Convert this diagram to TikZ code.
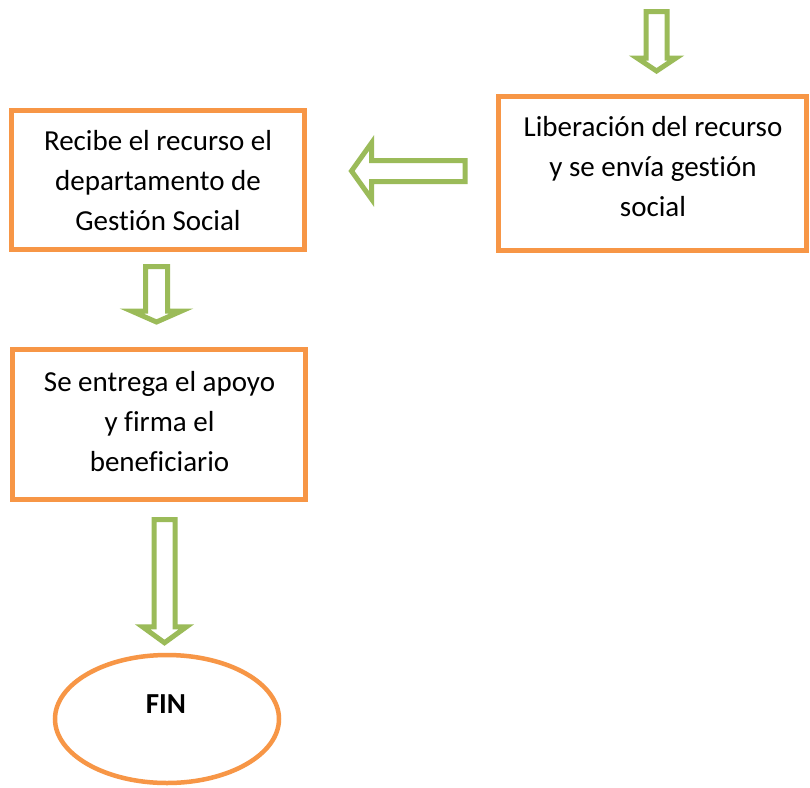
\documentclass[tikz,border=0pt]{standalone}
\usepackage{fontspec}
\setmainfont[Ligatures={NoCommon}]{Carlito}
\usetikzlibrary{calc,shapes.geometric}
\definecolor{orangebox}{HTML}{F79646}
\definecolor{greenarrow}{HTML}{9BBB59}
\tikzset{
  stepbox/.style={draw=orangebox, line width=5pt, fill=white, rectangle, inner sep=0pt},
  endbox/.style={draw=orangebox, line width=4.5pt, fill=white, ellipse, inner sep=0pt},
  boxtext/.style={inner sep=0pt, align=center, font=\fontsize{29}{40}\selectfont},
  blockarrow/.style={draw=greenarrow, line width=5pt, fill=white, line join=miter},
}
% vertical block arrow: #1 tail, #2 tip, #3 shaft half width, #4 head half width, #5 head length
\newcommand\blkdown[5]{%
  \draw[blockarrow] ($(#1)+(-#3,0)$) -- ($(#1)+(#3,0)$) -- ($(#1|-#2)+(#3,-#5)$)
    -- ($(#1|-#2)+(#4,-#5)$) -- (#1|-#2) -- ($(#1|-#2)+(-#4,-#5)$)
    -- ($(#1|-#2)+(-#3,-#5)$) -- cycle;}
% leftward block arrow
\newcommand\blkleft[5]{%
  \draw[blockarrow] ($(#1)+(0,-#3)$) -- ($(#1)+(0,#3)$) -- ($(#2|-#1)+(#5,#3)$)
    -- ($(#2|-#1)+(#5,#4)$) -- (#2|-#1) -- ($(#2|-#1)+(#5,-#4)$)
    -- ($(#2|-#1)+(#5,-#3)$) -- cycle;}
\begin{document}
\begin{tikzpicture}[x=1pt,y=-1pt]
\useasboundingbox[fill=white] (0,0) rectangle (810,787);
% boxes
\node[stepbox, minimum width=293pt, minimum height=139pt] (b1) at (158,180) {};
\node[boxtext] (t1) at (158,180.5) {Recibe el recurso el\\departamento de\\Gestión Social};
\node[stepbox, minimum width=308pt, minimum height=154pt] (b2) at (652.5,173.5) {};
\node[boxtext] (t2) at (653,167) {Liberación del recurso\\y se envía gestión\\social};
\node[stepbox, minimum width=293pt, minimum height=150pt] (b3) at (159,424.5) {};
\node[boxtext] (t3) at (159.5,421.5) {Se entrega el apoyo\\y firma el\\beneficiario};
\node[endbox, minimum width=224pt, minimum height=128pt] (fin) at (167,719) {};
\node[inner sep=0pt, anchor=base, font=\fontsize{29}{40}\selectfont\bfseries] (tfin) at (166,713) {FIN};
% connector coordinates
\coordinate (aAs) at (656.5,11.5);
\coordinate (aAe) at ($(b2.north)+(4,-23)$);
\coordinate (aBs) at ($(b2.west)+(-31,-2.5)$);
\coordinate (aBe) at ($(b1.east)+(44.5,-9)$);
\coordinate (aCs) at ($(b1.south)+(-1.5,14.5)$);
\coordinate (aCe) at ($(b3.north)+(-2.5,-25)$);
\coordinate (aDs) at ($(b3.south)+(5.5,17.5)$);
\coordinate (aDe) at ($(fin.north)+(-2.5,-10)$);
% block arrows
\blkdown{aAs}{aAe}{10.5}{19.5}{13}
\blkleft{aBs}{aBe}{10.5}{28}{20}
\blkdown{aCs}{aCe}{11}{25}{11}
\blkdown{aDs}{aDe}{10.5}{22}{16}
\end{tikzpicture}
\end{document}
